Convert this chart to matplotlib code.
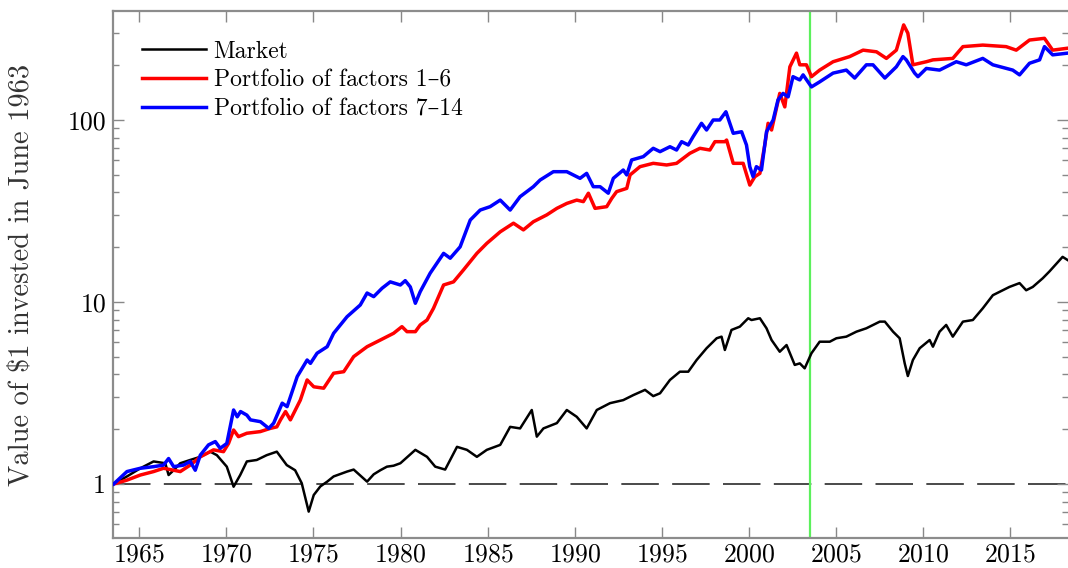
import matplotlib
matplotlib.use("Agg")
import matplotlib.pyplot as plt
from matplotlib.ticker import NullFormatter, LogLocator

plt.rcParams['font.family'] = ['cmr10', 'DejaVu Serif']
plt.rcParams['axes.formatter.use_mathtext'] = True
plt.rcParams['lines.scale_dashes'] = False

# growth of $1 invested in June 1963 (log scale values)
mkt_years = [1963.54, 1964.30, 1965.07, 1965.83, 1966.50, 1966.69, 1966.98, 1967.36,
             1967.93, 1968.51, 1969.08, 1969.46, 1970.03, 1970.42, 1970.80, 1971.18,
             1971.75, 1972.32, 1972.90, 1973.47, 1973.95, 1974.33, 1974.73, 1975.02,
             1975.40, 1975.79, 1976.16, 1976.93, 1977.31, 1978.08, 1978.46, 1978.84,
             1979.22, 1979.60, 1979.99, 1980.85, 1981.52, 1981.99, 1982.56, 1983.24,
             1983.81, 1984.38, 1984.95, 1985.72, 1986.29, 1986.86, 1987.53, 1987.82,
             1988.20, 1988.97, 1989.54, 1990.11, 1990.68, 1991.26, 1992.02, 1992.78,
             1993.36, 1994.03, 1994.50, 1994.89, 1995.46, 1996.03, 1996.51, 1996.99,
             1997.56, 1998.14, 1998.42, 1998.61, 1998.99, 1999.47, 1999.95, 2000.14,
             2000.62, 2001.00, 2001.29, 2001.76, 2002.15, 2002.62, 2002.91, 2003.19,
             2003.58, 2004.05, 2004.63, 2005.01, 2005.58, 2006.16, 2006.73, 2007.50,
             2007.79, 2008.26, 2008.64, 2008.93, 2009.11, 2009.40, 2009.79, 2010.36,
             2010.55, 2010.93, 2011.31, 2011.69, 2012.27, 2012.84, 2013.41, 2013.99,
             2014.94, 2015.52, 2015.90, 2016.28, 2016.85, 2017.23, 2017.99, 2018.28]
mkt_vals = [1.00, 1.10, 1.22, 1.33, 1.30, 1.12, 1.19, 1.30,
            1.355, 1.41, 1.505, 1.44, 1.245, 0.966, 1.12, 1.33,
            1.355, 1.44, 1.505, 1.27, 1.19, 1.01, 0.705, 0.87,
            0.97, 1.03, 1.10, 1.17, 1.20, 1.03, 1.13, 1.19,
            1.245, 1.26, 1.30, 1.54, 1.41, 1.245, 1.20, 1.60,
            1.54, 1.41, 1.54, 1.64, 2.06, 2.02, 2.55, 1.82,
            2.02, 2.16, 2.55, 2.34, 2.02, 2.55, 2.78, 2.89,
            3.08, 3.29, 3.04, 3.15, 3.73, 4.14, 4.14, 4.80,
            5.57, 6.32, 6.45, 5.45, 7.02, 7.32, 8.14, 7.96,
            8.14, 7.17, 6.18, 5.33, 5.80, 4.51, 4.60, 4.32,
            5.23, 6.05, 6.05, 6.32, 6.45, 6.87, 7.17, 7.80,
            7.80, 6.87, 6.32, 4.60, 3.92, 4.80, 5.57, 6.18,
            5.68, 6.87, 7.48, 6.45, 7.80, 7.96, 9.23, 10.9,
            12.1, 12.7, 11.6, 12.1, 13.5, 14.7, 17.7, 17.0]

red_years = [1963.54, 1964.30, 1965.07, 1965.83, 1966.40, 1966.98, 1967.36, 1967.93,
             1968.51, 1969.27, 1969.84, 1970.13, 1970.42, 1970.70, 1971.18, 1971.95,
             1972.52, 1972.90, 1973.11, 1973.40, 1973.68, 1974.25, 1974.64, 1975.02,
             1975.59, 1976.16, 1976.74, 1977.31, 1978.08, 1978.84, 1979.60, 1980.08,
             1980.37, 1980.85, 1981.13, 1981.52, 1981.89, 1982.47, 1983.04, 1983.61,
             1984.38, 1984.95, 1985.72, 1986.48, 1987.05, 1987.62, 1988.39, 1988.97,
             1989.54, 1990.11, 1990.49, 1990.78, 1991.16, 1991.83, 1992.12, 1992.40,
             1992.98, 1993.17, 1993.74, 1994.50, 1995.27, 1995.84, 1996.60, 1997.18,
             1997.75, 1998.04, 1998.61, 1998.71, 1999.09, 1999.66, 2000.04, 2000.33,
             2000.62, 2000.90, 2001.09, 2001.29, 2001.76, 2002.05, 2002.34, 2002.72,
             2002.91, 2003.29, 2003.58, 2004.05, 2004.82, 2005.77, 2006.54, 2007.31,
             2007.88, 2008.45, 2008.87, 2009.11, 2009.40, 2010.17, 2010.55, 2011.69,
             2012.27, 2013.41, 2014.75, 2015.33, 2016.09, 2016.95, 2017.42, 2018.28]
red_vals = [1.00, 1.05, 1.12, 1.17, 1.22, 1.19, 1.17, 1.27,
            1.41, 1.54, 1.505, 1.67, 1.98, 1.82, 1.90, 1.94,
            2.02, 2.06, 2.25, 2.50, 2.25, 2.89, 3.73, 3.42,
            3.36, 4.06, 4.14, 5.01, 5.68, 6.18, 6.73, 7.32,
            6.87, 6.87, 7.48, 7.96, 9.23, 12.4, 12.9, 15.0,
            18.5, 21.0, 24.3, 27.1, 24.9, 27.6, 30.1, 32.7,
            34.8, 36.3, 35.6, 39.6, 32.7, 33.4, 37.1, 40.4,
            42.1, 49.9, 55.4, 57.8, 56.6, 57.8, 65.6, 69.9,
            68.4, 76.0, 76.0, 77.6, 57.8, 57.8, 43.9, 48.8,
            50.9, 72.9, 95.9, 88.1, 140, 118, 196, 233,
            201, 201, 173, 188, 209, 223, 242, 237,
            218, 242, 333, 300, 201, 209, 214, 218,
            253, 258, 253, 242, 275, 281, 242, 248]

blue_years = [1963.54, 1964.30, 1965.07, 1965.83, 1966.40, 1966.69, 1966.98, 1967.55,
              1967.93, 1968.22, 1968.51, 1968.98, 1969.37, 1969.65, 1970.03, 1970.42,
              1970.63, 1970.82, 1971.18, 1971.39, 1971.96, 1972.44, 1972.72, 1973.21,
              1973.49, 1974.07, 1974.64, 1974.83, 1975.21, 1975.79, 1976.16, 1976.93,
              1977.69, 1978.08, 1978.46, 1978.94, 1979.41, 1979.99, 1980.27, 1980.56,
              1980.85, 1981.13, 1981.70, 1982.47, 1982.85, 1983.42, 1984.00, 1984.57,
              1985.14, 1985.72, 1986.29, 1986.86, 1987.62, 1988.01, 1988.77, 1989.54,
              1990.30, 1990.68, 1991.06, 1991.45, 1991.92, 1992.21, 1992.78, 1992.98,
              1993.26, 1993.93, 1994.50, 1994.89, 1995.46, 1995.84, 1996.13, 1996.51,
              1996.79, 1997.27, 1997.56, 1997.94, 1998.32, 1998.61, 1998.67, 1999.09,
              1999.57, 1999.85, 2000.04, 2000.23, 2000.42, 2000.71, 2001.00, 2001.38,
              2001.66, 2001.95, 2002.24, 2002.52, 2002.91, 2003.10, 2003.58, 2004.05,
              2004.82, 2005.58, 2006.06, 2006.73, 2007.11, 2007.79, 2008.45, 2008.83,
              2009.02, 2009.50, 2009.69, 2010.17, 2010.93, 2011.89, 2012.46, 2013.41,
              2013.99, 2015.13, 2015.52, 2016.09, 2016.67, 2016.95, 2017.42, 2018.28]
blue_vals = [1.00, 1.17, 1.22, 1.245, 1.27, 1.38, 1.245, 1.27,
             1.33, 1.19, 1.44, 1.64, 1.71, 1.57, 1.67, 2.55,
             2.34, 2.50, 2.39, 2.25, 2.20, 2.02, 2.16, 2.78,
             2.66, 3.89, 4.80, 4.60, 5.23, 5.68, 6.73, 8.30,
             9.63, 11.2, 10.7, 11.9, 12.9, 12.4, 13.1, 12.1,
             9.84, 11.4, 14.4, 18.5, 17.4, 20.1, 28.2, 32.0,
             33.4, 36.3, 32.0, 37.9, 43.0, 46.8, 52.0, 52.0,
             47.8, 50.9, 43.0, 43.0, 39.6, 47.8, 53.1, 49.9,
             60.3, 62.9, 69.9, 67.0, 71.3, 68.4, 76.0, 72.9,
             81.0, 95.9, 88.1, 100, 100, 109, 111, 84.5,
             86.2, 72.9, 55.4, 48.8, 55.4, 53.1, 86.2, 100,
             129, 140, 134, 173, 166, 177, 152, 162,
             181, 188, 170, 201, 201, 170, 196, 223,
             214, 181, 173, 192, 188, 209, 201, 218,
             201, 188, 177, 205, 214, 253, 228, 233]

year_ticks = [1965, 1970, 1975, 1980, 1985, 1990, 1995, 2000, 2005, 2010, 2015]
value_ticks = [1, 10, 100]
value_tick_labels = ['1', '10', '100']
split_year = 2003.5

fig = plt.figure(figsize=(10.68, 5.68), dpi=100)
ax = fig.add_axes([0.1058, 0.0523, 0.8942, 0.9283])

ax.axhline(1, color='#3a3a3a', lw=1.3, dashes=(27, 9.6), zorder=1)
ax.axvline(split_year, color='#5cf05c', lw=1.6, zorder=1)

ax.plot(mkt_years, mkt_vals, color='black', lw=1.8, label='Market', zorder=3)
ax.plot(red_years, red_vals, color='#ff0000', lw=2.5, label='Portfolio of factors 1–6', zorder=4)
ax.plot(blue_years, blue_vals, color='#0000ff', lw=2.5, label='Portfolio of factors 7–14', zorder=5)

ax.set_yscale('log')
ax.set_xlim(1963.5, 2018.3)
ax.set_ylim(0.503, 397)

ax.set_xticks(year_ticks)
ax.set_yticks(value_ticks)
ax.set_yticklabels(value_tick_labels)
ax.yaxis.set_minor_locator(LogLocator(base=10, subs=range(2, 10)))
ax.yaxis.set_minor_formatter(NullFormatter())

ax.tick_params(which='both', direction='in', top=True, right=True, colors='#888888',
               labelcolor='black', labelsize=18.5, width=1.0)
ax.tick_params(which='major', length=8, pad=5)
ax.tick_params(axis='x', which='major', pad=3)
ax.tick_params(which='minor', length=4)

for side in ['left', 'bottom', 'top']:
    ax.spines[side].set_color('#8c8c8c')
    ax.spines[side].set_linewidth(1.6)
ax.spines['right'].set_visible(False)

ax.set_ylabel('Value of $1 invested in June 1963', fontsize=20.5, color='#333333')
ax.yaxis.set_label_coords(-0.0817, 0.5)

ax.legend(loc='upper left', bbox_to_anchor=(0.02, 0.962), frameon=False, fontsize=17,
          handlelength=2.75, handletextpad=0.3, labelspacing=0.28, borderaxespad=0.0)

fig.savefig('out.png', dpi=100)
